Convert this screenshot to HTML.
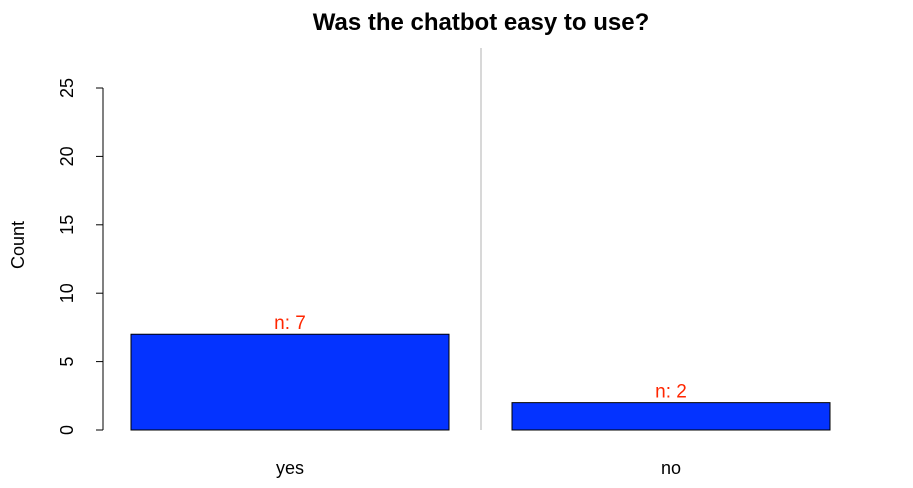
<!DOCTYPE html>
<html><head><meta charset="utf-8"><style>body{margin:0;background:#fff}svg{display:block;font-family:"Liberation Sans",sans-serif}</style></head>
<body>
<svg width="913" height="488">
<text x="481" y="30" text-anchor="middle" font-size="24" font-weight="bold">Was the chatbot easy to use?</text>
<text transform="translate(24,245) rotate(-90)" text-anchor="middle" font-size="18">Count</text>
<line x1="481" y1="48" x2="481" y2="430" stroke="#ccc" stroke-width="1.5"/>
<g id="axis"></g>
<g id="bars"></g>
</svg>
<script>
const categories = ["yes","no"];
const counts = [7,2];
const ticks = [0,5,10,15,20,25];
const ns="http://www.w3.org/2000/svg";
const y0=430, yTop=88, yMax=25;
function y(v){return y0-(v/yMax)*(y0-yTop);}
const barX=[131,512], barW=318;
function mk(t,a,p){const e=document.createElementNS(ns,t);for(const k in a)e.setAttribute(k,a[k]);p.appendChild(e);return e;}
const ax=document.getElementById('axis');
mk('line',{x1:103,y1:y(0),x2:103,y2:y(ticks[ticks.length-1]),stroke:'#000'},ax);
ticks.forEach(t=>{
 const l=mk('line',{x1:96,y1:y(t),x2:103,y2:y(t),stroke:'#000'},ax);
 
 
 const tx=mk('text',{transform:`translate(73,${y(t)}) rotate(-90)`,'text-anchor':'middle','font-size':'18'},ax);
 tx.textContent=t;
 
 
});
const bg=document.getElementById('bars');
categories.forEach((c,i)=>{
 const r=mk('rect',{x:barX[i],y:y(counts[i]),width:barW,height:y(0)-y(counts[i]),fill:'#0433ff',stroke:'#000','stroke-width':1},bg);
 
 
 const n=mk('text',{x:barX[i]+barW/2,y:y(counts[i])-5,'text-anchor':'middle','font-size':'19',fill:'#ff2600'},bg);
 n.textContent='n: '+counts[i];
 
 
 const xl=mk('text',{x:barX[i]+barW/2,y:474,'text-anchor':'middle','font-size':'18'},bg);
 xl.textContent=c;
 
 
});
</script>
</body></html>
